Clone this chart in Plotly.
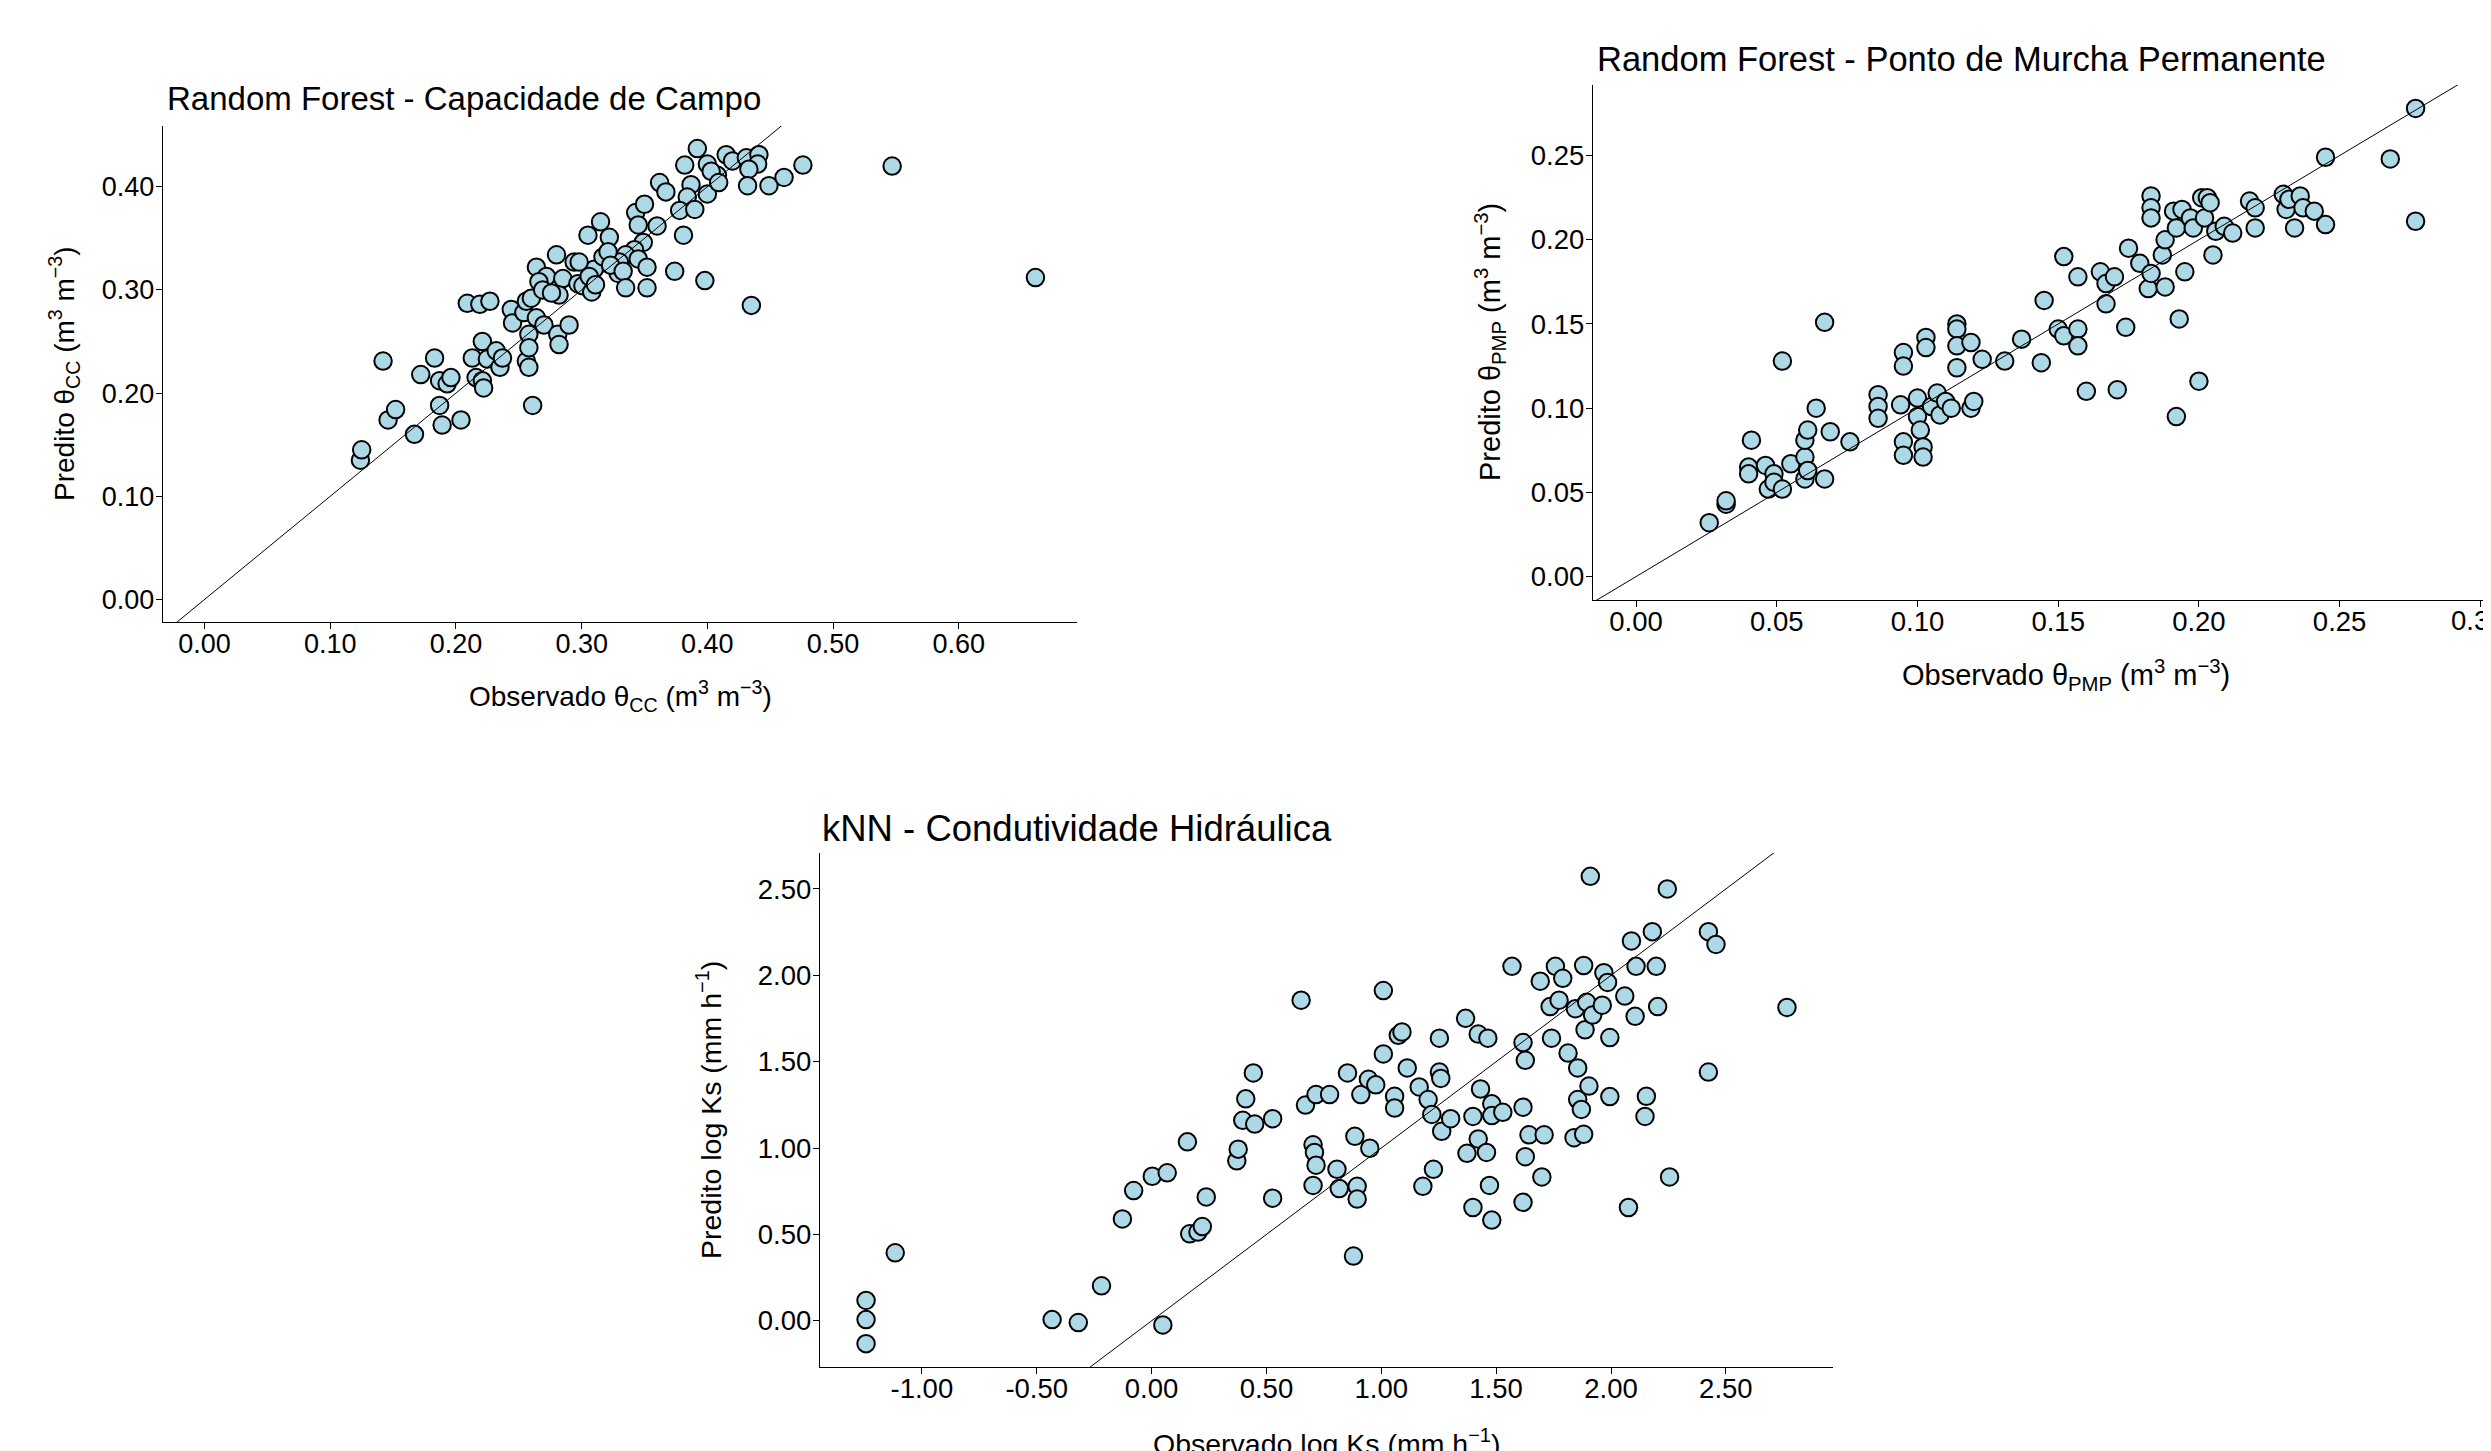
import plotly.graph_objects as go

WIN_W, WIN_H = 2491, 1451
OFF = 8  # default page margin of the html body
W, H = WIN_W - OFF, WIN_H - OFF

# ---------------- data ----------------
# Panel 1: Random Forest - Capacidade de Campo (observed, predicted)
cc_obs = [0.124, 0.125, 0.142, 0.146, 0.152, 0.167, 0.172, 0.183, 0.187, 0.193, 0.196, 0.187, 0.189, 0.204,
          0.209, 0.219, 0.227, 0.213, 0.221, 0.216, 0.221, 0.222, 0.225, 0.232, 0.235, 0.237, 0.244, 0.245,
          0.254, 0.264, 0.256, 0.260, 0.256, 0.258, 0.258, 0.258, 0.261, 0.264, 0.272, 0.266, 0.269, 0.280,
          0.285, 0.282, 0.276, 0.270, 0.281, 0.282, 0.290, 0.294, 0.297, 0.301, 0.308, 0.310, 0.317, 0.329,
          0.392, 0.382, 0.400, 0.415, 0.420, 0.431, 0.441, 0.440, 0.433, 0.432, 0.449, 0.461, 0.476, 0.362,
          0.367, 0.387, 0.384, 0.378, 0.390, 0.400, 0.408, 0.403, 0.409, 0.343, 0.350, 0.345, 0.360, 0.381,
          0.315, 0.305, 0.322, 0.349, 0.342, 0.335, 0.345, 0.352, 0.330, 0.321, 0.323, 0.306, 0.311, 0.298,
          0.333, 0.335, 0.352, 0.374, 0.398, 0.435, 0.547, 0.661]
cc_pred = [0.135, 0.145, 0.231, 0.174, 0.184, 0.160, 0.218, 0.234, 0.212, 0.209, 0.215, 0.188, 0.169, 0.174,
           0.287, 0.286, 0.289, 0.234, 0.250, 0.215, 0.212, 0.205, 0.233, 0.241, 0.225, 0.234, 0.281, 0.268,
           0.278, 0.273, 0.289, 0.292, 0.231, 0.225, 0.257, 0.244, 0.188, 0.322, 0.313, 0.308, 0.300, 0.334,
           0.311, 0.295, 0.297, 0.266, 0.257, 0.247, 0.266, 0.327, 0.306, 0.304, 0.298, 0.320, 0.332, 0.316,
           0.437, 0.421, 0.422, 0.431, 0.425, 0.428, 0.431, 0.422, 0.417, 0.401, 0.401, 0.409, 0.421, 0.404,
           0.395, 0.402, 0.390, 0.377, 0.378, 0.393, 0.411, 0.415, 0.404, 0.375, 0.383, 0.363, 0.362, 0.353,
           0.366, 0.353, 0.351, 0.346, 0.339, 0.334, 0.330, 0.322, 0.327, 0.337, 0.324, 0.313, 0.305, 0.327,
           0.318, 0.302, 0.302, 0.318, 0.309, 0.285, 0.420, 0.312]

# Panel 2: Random Forest - Ponto de Murcha Permanente
pmp_obs = [0.026, 0.032, 0.032, 0.041, 0.040, 0.040, 0.046, 0.047, 0.049, 0.049, 0.052, 0.052, 0.055, 0.060,
           0.060, 0.060, 0.061, 0.061, 0.064, 0.067, 0.067, 0.069, 0.076, 0.086, 0.086, 0.086, 0.094, 0.095,
           0.095, 0.095, 0.095, 0.100, 0.100, 0.101, 0.102, 0.102, 0.103, 0.103, 0.105, 0.107, 0.108, 0.110,
           0.112, 0.114, 0.114, 0.114, 0.114, 0.119, 0.120, 0.119, 0.123, 0.131, 0.137, 0.144, 0.145, 0.150,
           0.152, 0.152, 0.157, 0.157, 0.157, 0.160, 0.165, 0.167, 0.167, 0.170, 0.171, 0.174, 0.175, 0.179,
           0.182, 0.183, 0.183, 0.183, 0.183, 0.187, 0.188, 0.188, 0.191, 0.192, 0.193, 0.192, 0.194, 0.195,
           0.197, 0.198, 0.200, 0.201, 0.202, 0.203, 0.204, 0.205, 0.206, 0.209, 0.212, 0.218, 0.220, 0.220,
           0.230, 0.231, 0.232, 0.234, 0.236, 0.237, 0.241, 0.245, 0.245, 0.268, 0.277, 0.277, 0.306]
pmp_pred = [0.032, 0.043, 0.045, 0.081, 0.065, 0.061, 0.066, 0.052, 0.061, 0.056, 0.052, 0.128, 0.067, 0.071,
            0.058, 0.081, 0.063, 0.087, 0.100, 0.151, 0.058, 0.086, 0.080, 0.108, 0.101, 0.094, 0.102, 0.080,
            0.072, 0.133, 0.125, 0.106, 0.095, 0.087, 0.077, 0.071, 0.142, 0.136, 0.101, 0.109, 0.096, 0.104,
            0.100, 0.150, 0.147, 0.137, 0.124, 0.100, 0.104, 0.139, 0.129, 0.128, 0.141, 0.127, 0.164, 0.147,
            0.190, 0.143, 0.147, 0.137, 0.178, 0.110, 0.181, 0.174, 0.162, 0.178, 0.111, 0.148, 0.195, 0.186,
            0.171, 0.180, 0.226, 0.219, 0.213, 0.191, 0.200, 0.172, 0.217, 0.207, 0.153, 0.095, 0.218, 0.181,
            0.213, 0.207, 0.116, 0.225, 0.213, 0.225, 0.222, 0.191, 0.205, 0.208, 0.204, 0.223, 0.219, 0.207,
            0.227, 0.218, 0.224, 0.207, 0.226, 0.219, 0.217, 0.249, 0.209, 0.248, 0.211, 0.278, 0.278]

# Panel 3: kNN - Condutividade Hidraulica
ks_obs = [-1.243, -1.243, -1.243, -1.116, -0.433, -0.319, -0.218, -0.127, -0.078, 0.003, 0.049, 0.068, 0.156,
          0.166, 0.202, 0.221, 0.238, 0.371, 0.377, 0.397, 0.410, 0.443, 0.449, 0.527, 0.527, 0.651, 0.670,
          0.703, 0.709, 0.716, 0.703, 0.716, 0.775, 0.807, 0.817, 0.853, 0.879, 0.885, 0.895, 0.895, 0.911,
          0.944, 0.950, 0.976, 1.009, 1.009, 1.058, 1.058, 1.074, 1.090, 1.113, 1.165, 1.181, 1.204, 1.220,
          1.227, 1.253, 1.253, 1.259, 1.263, 1.302, 1.367, 1.373, 1.399, 1.399, 1.422, 1.422, 1.432, 1.458,
          1.464, 1.471, 1.481, 1.481, 1.481, 1.529, 1.569, 1.617, 1.617, 1.627, 1.627, 1.617, 1.643, 1.692,
          1.699, 1.709, 1.735, 1.741, 1.758, 1.774, 1.790, 1.813, 1.839, 1.845, 1.855, 1.855, 1.871, 1.881,
          1.881, 1.887, 1.894, 1.904, 1.910, 1.920, 1.962, 1.969, 1.985, 1.995, 1.995, 2.060, 2.076, 2.089,
          2.105, 2.109, 2.148, 2.154, 2.180, 2.197, 2.203, 2.245, 2.255, 2.424, 2.424, 2.457, 2.766]
ks_pred = [0.118, 0.007, -0.132, 0.394, 0.007, -0.010, 0.203, 0.590, 0.754, 0.837, -0.024, 0.857, 1.036,
           0.504, 0.514, 0.546, 0.717, 0.926, 0.994, 1.161, 1.285, 1.435, 1.139, 1.170, 0.710, 1.856, 1.249,
           1.019, 0.975, 0.901, 0.784, 1.310, 1.310, 0.877, 0.766, 1.435, 0.375, 1.068, 0.779, 0.705, 1.310,
           1.398, 0.999, 1.366, 1.545, 1.912, 1.300, 1.232, 1.653, 1.672, 1.464, 1.354, 0.779, 1.281, 1.195,
           0.877, 1.636, 1.440, 1.403, 1.097, 1.170, 1.751, 0.970, 0.656, 1.183, 1.053, 1.660, 1.342, 0.975,
           1.636, 0.784, 1.256, 1.188, 0.583, 1.207, 2.052, 1.237, 1.611, 1.508, 0.950, 0.686, 1.077, 1.966,
           0.833, 1.077, 1.819, 1.636, 2.052, 1.856, 1.983, 1.550, 1.060, 1.807, 1.464, 1.281, 1.224, 2.057,
           1.080, 1.685, 1.844, 1.359, 2.573, 1.770, 1.827, 2.015, 1.959, 1.640, 1.298, 1.880, 0.656, 2.199,
           1.763, 2.052, 1.183, 1.300, 2.253, 2.052, 1.819, 2.500, 0.833, 2.253, 1.440, 2.179, 1.814]

cc_ticks = [0.0, 0.1, 0.2, 0.3, 0.4, 0.5, 0.6]
cc_yticks = [0.0, 0.1, 0.2, 0.3, 0.4]
pmp_ticks = [0.0, 0.05, 0.10, 0.15, 0.20, 0.25, 0.30]
pmp_yticks = [0.0, 0.05, 0.10, 0.15, 0.20, 0.25]
ks_ticks = [-1.0, -0.5, 0.0, 0.5, 1.0, 1.5, 2.0, 2.5]
ks_yticks = [0.0, 0.5, 1.0, 1.5, 2.0, 2.5]
pmp_edge_label = "0.3"  # tick label cut by the right border of the picture

titles = ["Random Forest - Capacidade de Campo",
          "Random Forest - Ponto de Murcha Permanente",
          "kNN - Condutividade Hidráulica"]
xtitles = ["Observado θ<sub>CC</sub> (m<sup>3</sup> m<sup>−3</sup>)",
           "Observado θ<sub>PMP</sub> (m<sup>3</sup> m<sup>−3</sup>)",
           "Observado log Ks (mm h<sup>−1</sup>)"]
ytitles = ["Predito θ<sub>CC</sub> (m<sup>3</sup> m<sup>−3</sup>)",
           "Predito θ<sub>PMP</sub> (m<sup>3</sup> m<sup>−3</sup>)",
           "Predito log Ks (mm h<sup>−1</sup>)"]

# ---------------- helpers ----------------
FONT = "Liberation Sans, Arial, sans-serif"
FILL = "#ADD8E6"


def expand(vals, include_zero):
    lo, hi = min(vals), max(vals)
    if include_zero:
        lo, hi = min(lo, 0.0), max(hi, 0.0)
    pad = (hi - lo) * 0.05
    return [lo - pad, hi + pad]


def px_x(p):
    return (p - OFF) / W


def px_y(p):
    return 1 - (p - OFF) / H


panels = [
    dict(obs=cc_obs, pred=cc_pred, zero=True, xt=cc_ticks, yt=cc_yticks,
         box=(163, 1077, 126, 622), vis=1.0, tsize=33, asize=28, ksize=27,
         title_xy=(165, 98), xt_xy=(620, 696), yt_xy=(64, 374)),
    dict(obs=pmp_obs, pred=pmp_pred, zero=True, xt=pmp_ticks, yt=pmp_yticks,
         box=(1593, WIN_W, 85, 600), vis=0.948, tsize=34.5, asize=29, ksize=27.5,
         title_xy=(1595, 59), xt_xy=(2066, 675), yt_xy=(1490, 342)),
    dict(obs=ks_obs, pred=ks_pred, zero=False, xt=ks_ticks, yt=ks_yticks,
         box=(820, 1833, 853, 1367), vis=1.0, tsize=36.5, asize=28.5, ksize=27.5,
         title_xy=(820, 828), xt_xy=(1326, 1442), yt_xy=(709, 1110)),
]

fig = go.Figure()
annotations = []
layout_axes = {}

for i, p in enumerate(panels):
    n = "" if i == 0 else str(i + 1)
    xr = expand(p["obs"], p["zero"])
    yr = expand(p["pred"], p["zero"])
    xr_vis = [xr[0], xr[0] + (xr[1] - xr[0]) * p["vis"]]

    fig.add_trace(go.Scatter(
        x=p["obs"], y=p["pred"], mode="markers", xaxis="x" + n, yaxis="y" + n,
        marker=dict(size=17.5, color=FILL, line=dict(color="black", width=2)),
        cliponaxis=True, showlegend=False, hoverinfo="skip"))

    lo = min(xr[0], yr[0])
    hi = max(xr[1], yr[1])
    fig.add_trace(go.Scatter(
        x=[lo, hi], y=[lo, hi], mode="lines", xaxis="x" + n, yaxis="y" + n,
        line=dict(color="black", width=1), showlegend=False, hoverinfo="skip"))

    x0, x1, y0, y1 = p["box"]
    common = dict(showgrid=False, zeroline=False, showline=True, linecolor="black", linewidth=1.4,
                  ticks="outside", ticklen=6, tickwidth=1.4, tickcolor="black",
                  tickfont=dict(family=FONT, size=p["ksize"], color="black"), mirror=False)
    layout_axes["xaxis" + n] = dict(common, domain=[px_x(x0), min(1.0, px_x(x1))], range=xr_vis,
                                    anchor="y" + n, tickvals=p["xt"], ticklabelstandoff=-9,
                                    ticktext=[f"{v:.2f}" for v in p["xt"]])
    layout_axes["yaxis" + n] = dict(common, domain=[px_y(y1), px_y(y0)], range=yr,
                                    anchor="x" + n, tickvals=p["yt"], ticklabelstandoff=-4,
                                    ticktext=[f"{v:.2f}" for v in p["yt"]])

    tx, ty = p["title_xy"]
    annotations.append(dict(text=titles[i], x=px_x(tx), y=px_y(ty), xref="paper", yref="paper",
                            xanchor="left", yanchor="middle", showarrow=False,
                            font=dict(family=FONT, size=p["tsize"], color="black")))
    ax_, ay_ = p["xt_xy"]
    annotations.append(dict(text=xtitles[i], x=px_x(ax_), y=px_y(ay_), xref="paper", yref="paper",
                            xanchor="center", yanchor="middle", showarrow=False,
                            font=dict(family=FONT, size=p["asize"], color="black")))
    bx, by = p["yt_xy"]
    annotations.append(dict(text=ytitles[i], x=px_x(bx), y=px_y(by), xref="paper", yref="paper",
                            xanchor="center", yanchor="middle", showarrow=False, textangle=-90,
                            font=dict(family=FONT, size=p["asize"], color="black")))

# partially visible last tick label of panel 2 (the axis runs past the picture edge)
annotations.append(dict(text=pmp_edge_label, x=1.0, y=px_y(620), xref="paper", yref="paper",
                        xanchor="right", yanchor="middle", showarrow=False,
                        font=dict(family=FONT, size=27.5, color="black")))

fig.update_layout(
    width=W, height=H, margin=dict(l=0, r=0, t=0, b=0),
    paper_bgcolor="white", plot_bgcolor="white", showlegend=False,
    annotations=annotations, **layout_axes)

fig.write_html("out.html")
